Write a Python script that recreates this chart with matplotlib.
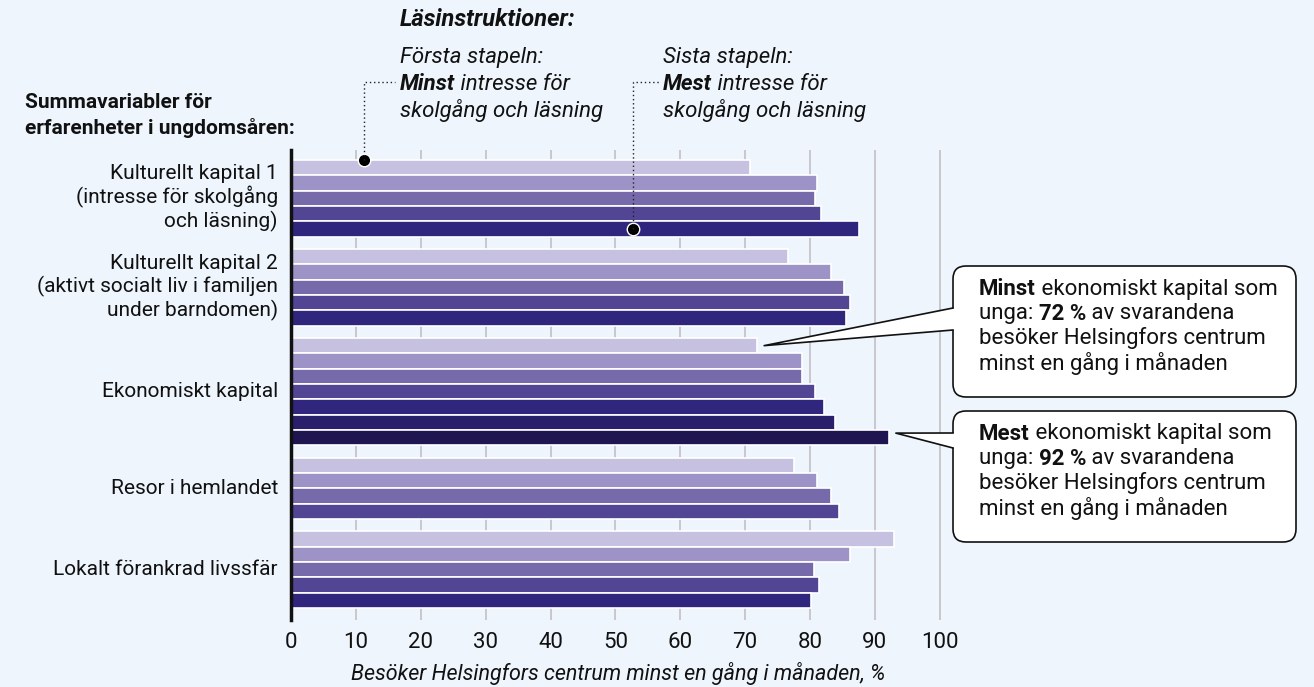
import numpy as np
import matplotlib.pyplot as plt
from matplotlib.patches import FancyBboxPatch, Polygon
from matplotlib.lines import Line2D
from matplotlib.transforms import IdentityTransform

plt.rcParams['font.family'] = ['Roboto', 'DejaVu Sans']

# data
categories = ['Kulturellt kapital 1\n(intresse för skolgång\noch läsning)',
              'Kulturellt kapital 2\n(aktivt socialt liv i familjen\nunder barndomen)',
              'Ekonomiskt kapital',
              'Resor i hemlandet',
              'Lokalt förankrad livssfär']
kultur1 = [70.8, 81.0, 80.7, 81.7, 87.6]
kultur2 = [76.6, 83.3, 85.3, 86.2, 85.6]
ekonomi = [71.8, 78.8, 78.7, 80.8, 82.2, 83.8, 92.1]
resor = [77.5, 81.0, 83.3, 84.4]
lokalt = [92.9, 86.1, 80.6, 81.4, 80.1]
groups = [kultur1, kultur2, ekonomi, resor, lokalt]
xticks = [0, 10, 20, 30, 40, 50, 60, 70, 80, 90, 100]

colors = ['#c6c1e0', '#9d93c6', '#766aab', '#524593', '#31267e', '#2a1f6b', '#1f1550']
bg = '#eef5fd'

W, H = 1314, 687
fig = plt.figure(figsize=(W / 100, H / 100), dpi=100, facecolor=bg)
ax = fig.add_axes([291 / W, (H - 620) / H, (945 - 291) / W, 470 / H], facecolor=bg)

gap = 0.8
pos = 0.0
centers = []
for vals in groups:
    ys = []
    for i, v in enumerate(vals):
        ys.append(pos + 0.5)
        pos += 1
    ax.barh(ys, vals, height=1.0, color=colors[:len(vals)], edgecolor='white', linewidth=1.2, zorder=3)
    centers.append(ys)
    pos += gap

ax.set_ylim(pos - gap + 0.78, -0.65)
ax.set_xlim(0, 100.8)
ax.set_xticks(xticks)
ax.set_yticks([])
ax.tick_params(axis='x', length=0, pad=9, labelsize=16, colors='#111111')
ax.grid(axis='x', color='#c4c4c8', lw=1.3, zorder=0)
for s in ['top', 'right', 'bottom']:
    ax.spines[s].set_visible(False)
ax.spines['left'].set_linewidth(2.5)
ax.spines['left'].set_color('#111111')
ax.spines['left'].set_zorder(5)
ax.set_xlabel('Besöker Helsingfors centrum minst en gång i månaden, %', fontsize=15.5,
              style='italic', labelpad=6, color='#111111')

for lab, ys in zip(categories, centers):
    ax.text(-0.02, (ys[0] + ys[-1]) / 2, lab, transform=ax.get_yaxis_transform(),
            ha='right', va='center', fontsize=15, linespacing=1.16, color='#111111')

r = fig.canvas.get_renderer()


def rich(x, y, parts, size=16, style='normal'):
    for s, w in parts:
        t = fig.text(x / W, 1 - y / H, s, fontweight=w, style=style, fontsize=size,
                     va='center', ha='left', color='#111111')
        x = t.get_window_extent(r).x1


# header texts
rich(25, 102, [('Summavariabler för', 'bold')], size=15)
rich(25, 128, [('erfarenheter i ungdomsåren:', 'bold')], size=15)
rich(400, 20, [('Läsinstruktioner:', 'bold')], size=17, style='italic')
rich(400, 57, [('Första stapeln:', 'normal')], style='italic')
rich(400, 84, [('Minst', 'bold'), (' intresse för', 'normal')], style='italic')
rich(400, 110, [('skolgång och läsning', 'normal')], style='italic')
rich(663, 57, [('Sista stapeln:', 'normal')], style='italic')
rich(663, 84, [('Mest', 'bold'), (' intresse för', 'normal')], style='italic')
rich(663, 110, [('skolgång och läsning', 'normal')], style='italic')

# reading-guide dots with dotted leaders
idt = IdentityTransform()
for xv, yv, xend in [(11.2, centers[0][0] - 0.5, 395), (52.7, centers[0][4], 660)]:
    ax.plot(xv, yv, 'o', ms=9, color='black', mec='white', mew=1, zorder=6, clip_on=False)
    px, py = ax.transData.transform((xv, yv))
    fig.add_artist(Line2D([px, px, xend], [py, H - 82, H - 82], transform=idt,
                          color='#222222', lw=1, ls=(0, (1, 2)), zorder=2))

# callout boxes
boxes = [
    (266, [[('Minst', 'bold'), (' ekonomiskt kapital som', 'normal')],
           [('unga: ', 'normal'), ('72 %', 'bold'), (' av svarandena', 'normal')],
           [('besöker Helsingfors centrum', 'normal')],
           [('minst en gång i månaden', 'normal')]],
     ekonomi[0], centers[2][0], 308, 330),
    (411, [[('Mest', 'bold'), (' ekonomiskt kapital som', 'normal')],
           [('unga: ', 'normal'), ('92 %', 'bold'), (' av svarandena', 'normal')],
           [('besöker Helsingfors centrum', 'normal')],
           [('minst en gång i månaden', 'normal')]],
     ekonomi[-1], centers[2][-1] - 0.3, 433, 448),
]
bx0, bx1 = 953, 1296
for top, lines, xv, yv, j0, j1 in boxes:
    box = FancyBboxPatch((bx0, H - top - 131), bx1 - bx0, 131,
                         boxstyle='round,pad=0,rounding_size=13', transform=idt,
                         facecolor='white', edgecolor='#111111', lw=1.2, zorder=7)
    fig.add_artist(box)
    tx, ty = ax.transData.transform((xv + 0.2, yv))
    tx += 6
    fig.add_artist(Polygon([[bx0 + 2, H - j0], [tx, ty], [bx0 + 2, H - j1]], closed=True,
                           transform=idt, facecolor='white', edgecolor='none', zorder=8))
    fig.add_artist(Line2D([bx0, tx, bx0], [H - j0, ty, H - j1], transform=idt,
                          color='#111111', lw=1.2, zorder=9))
    for k, parts in enumerate(lines):
        ylin = top + 23 + k * 24.7
        x = 979
        for s, w in parts:
            t = fig.text(x / W, 1 - ylin / H, s, fontweight=w, fontsize=16,
                         va='center', ha='left', color='#111111', zorder=10)
            x = t.get_window_extent(r).x1

fig.savefig('out.png', dpi=100, facecolor=bg)
